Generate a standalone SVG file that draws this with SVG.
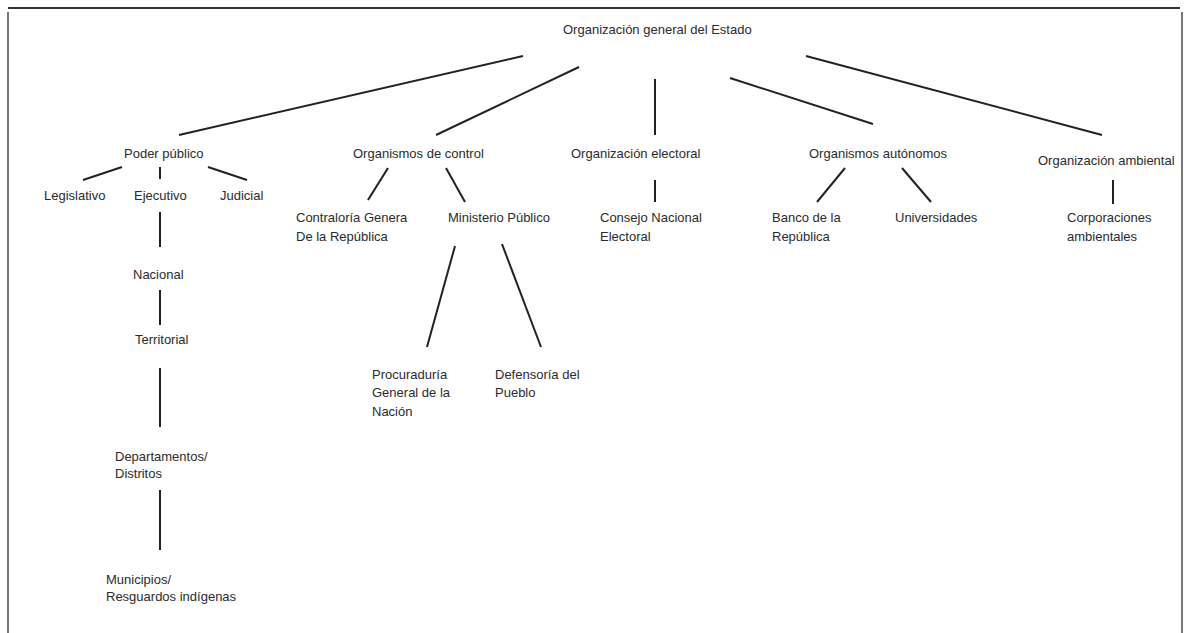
<svg xmlns="http://www.w3.org/2000/svg" width="1184" height="633" viewBox="0 0 1184 633">
<style>
text{font-family:"Liberation Sans",Arial,sans-serif;font-size:13px;fill:#2b2b2b}
.c line{stroke:#222;stroke-width:2;stroke-linecap:butt}
.frame{stroke:#777;stroke-width:2;fill:none}
</style>
<rect width="1184" height="633" fill="#fff"/>
<line x1="8" y1="8" x2="1180" y2="8" stroke="#333" stroke-width="2"/>
<line class="frame" x1="8" y1="12" x2="8" y2="633"/>
<line class="frame" x1="1182" y1="12" x2="1182" y2="633"/>
<g class="c">
<line x1="523" y1="56" x2="179" y2="135"/>
<line x1="579" y1="67" x2="436" y2="135"/>
<line x1="655" y1="79" x2="655" y2="135"/>
<line x1="730" y1="78" x2="873" y2="124"/>
<line x1="806" y1="56" x2="1102" y2="135"/>
<line x1="122" y1="167" x2="83" y2="180"/>
<line x1="160" y1="167" x2="160" y2="179"/>
<line x1="208" y1="167" x2="247" y2="180"/>
<line x1="160" y1="212" x2="160" y2="247"/>
<line x1="160" y1="290" x2="160" y2="325"/>
<line x1="160" y1="368" x2="160" y2="427"/>
<line x1="160" y1="490" x2="160" y2="550"/>
<line x1="388" y1="168" x2="368" y2="200"/>
<line x1="446" y1="168" x2="465" y2="202"/>
<line x1="455" y1="246" x2="427" y2="347"/>
<line x1="502" y1="244" x2="541" y2="347"/>
<line x1="655" y1="180" x2="655" y2="202"/>
<line x1="845" y1="168" x2="817" y2="202"/>
<line x1="902" y1="168" x2="931" y2="202"/>
<line x1="1113" y1="180" x2="1113" y2="204"/>
</g>
<g id="root"><text x="563" y="34">Organización general del Estado</text></g>
<g id="poder"><text x="124" y="158">Poder público</text></g>
<g id="legislativo"><text x="44" y="200">Legislativo</text></g>
<g id="ejecutivo"><text x="134" y="200">Ejecutivo</text></g>
<g id="judicial"><text x="220" y="200">Judicial</text></g>
<g id="nacional"><text x="133" y="279">Nacional</text></g>
<g id="territorial"><text x="135" y="344">Territorial</text></g>
<g id="departamentos"><text x="115" y="461">Departamentos/</text><text x="115" y="478">Distritos</text></g>
<g id="municipios"><text x="106" y="584">Municipios/</text><text x="106" y="601">Resguardos indígenas</text></g>
<g id="control"><text x="353" y="158">Organismos de control</text></g>
<g id="contraloria"><text x="296" y="222">Contraloría Genera</text><text x="296" y="241">De la República</text></g>
<g id="ministerio"><text x="448" y="222">Ministerio Público</text></g>
<g id="procuraduria"><text x="372" y="379">Procuraduría</text><text x="372" y="397">General de la</text><text x="372" y="416">Nación</text></g>
<g id="defensoria"><text x="495" y="379">Defensoría del</text><text x="495" y="397">Pueblo</text></g>
<g id="electoral"><text x="571" y="158">Organización electoral</text></g>
<g id="consejo"><text x="600" y="222">Consejo Nacional</text><text x="600" y="241">Electoral</text></g>
<g id="autonomos"><text x="809" y="158">Organismos autónomos</text></g>
<g id="banco"><text x="772" y="222">Banco de la</text><text x="772" y="241">República</text></g>
<g id="universidades"><text x="895" y="222">Universidades</text></g>
<g id="ambiental"><text x="1038" y="165">Organización ambiental</text></g>
<g id="corporaciones"><text x="1067" y="222">Corporaciones</text><text x="1067" y="241">ambientales</text></g>
</svg>
